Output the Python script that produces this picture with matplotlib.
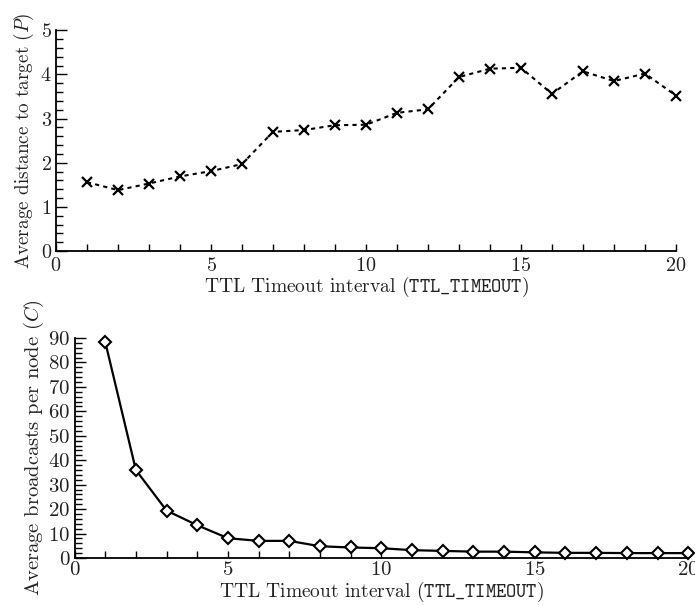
import numpy as np
import matplotlib
matplotlib.use('Agg')
import matplotlib.pyplot as plt
from matplotlib.ticker import MultipleLocator

plt.rcParams['font.family'] = 'serif'
plt.rcParams['font.serif'] = ['cmr10']
plt.rcParams['mathtext.fontset'] = 'cm'
plt.rcParams['axes.formatter.use_mathtext'] = True
plt.rcParams['axes.unicode_minus'] = False

ttl = list(range(1, 21))
distance = [1.56, 1.38, 1.53, 1.69, 1.81, 1.97, 2.70, 2.74, 2.85, 2.86,
            3.13, 3.21, 3.94, 4.13, 4.15, 3.56, 4.07, 3.85, 4.02, 3.52]
broadcasts = [88.5, 36.0, 19.4, 13.4, 8.1, 7.0, 7.0, 4.8, 4.3, 4.0,
              3.2, 2.9, 2.6, 2.6, 2.3, 2.1, 2.1, 2.0, 2.0, 2.0]

xlabel = r'TTL Timeout interval ($\mathtt{TTL\_TIMEOUT}$)'
text_col = '#222222'

fig = plt.figure(figsize=(6.95, 6.05), dpi=100)
ax1 = fig.add_axes([0.0806, 0.585, 0.892, 0.365])
ax2 = fig.add_axes([0.1072, 0.0777, 0.883, 0.3636])


def style(ax, tick_fs, xpad):
    for s in ['top', 'right']:
        ax.spines[s].set_visible(False)
    for s in ['left', 'bottom']:
        ax.spines[s].set_linewidth(1.3)
    ax.set_xlim(0, 20)
    ax.xaxis.set_major_locator(MultipleLocator(5))
    ax.xaxis.set_minor_locator(MultipleLocator(1))
    ax.tick_params(axis='x', which='both', direction='in', length=5, width=1,
                   labelsize=tick_fs, labelcolor=text_col, pad=xpad)
    ax.tick_params(axis='y', which='major', direction='in', length=8, width=1,
                   labelsize=tick_fs, labelcolor=text_col, pad=3)
    ax.tick_params(axis='y', which='minor', direction='in', length=5, width=1)


# top: distance to target
ax1.plot(ttl, distance, color='black', linestyle=(0, (2, 2)), linewidth=1.5,
         marker='x', markersize=7, markeredgewidth=1.6, clip_on=False)
style(ax1, 14.5, 4)
ax1.set_ylim(0, 5)
ax1.yaxis.set_major_locator(MultipleLocator(1))
ax1.yaxis.set_minor_locator(MultipleLocator(0.2))
ax1.set_xlabel(xlabel, fontsize=14, color=text_col, labelpad=0)
ax1.set_ylabel(r'Average distance to target ($P$)', fontsize=13.8,
               color=text_col, labelpad=3)

# bottom: broadcasts per node
ax2.plot(ttl, broadcasts, color='black', linestyle='-', linewidth=1.6,
         marker='D', markersize=6, markeredgewidth=1.5,
         markerfacecolor='white', clip_on=False)
style(ax2, 15, 2.5)
ax2.set_ylim(0, 90)
ax2.yaxis.set_major_locator(MultipleLocator(10))
ax2.yaxis.set_minor_locator(MultipleLocator(2))
ax2.set_xlabel(xlabel, fontsize=14, color=text_col, labelpad=0)
ax2.set_ylabel(r'Average broadcasts per node ($C$)', fontsize=14.8,
               color=text_col, labelpad=2)

fig.savefig('out.png', dpi=100)
